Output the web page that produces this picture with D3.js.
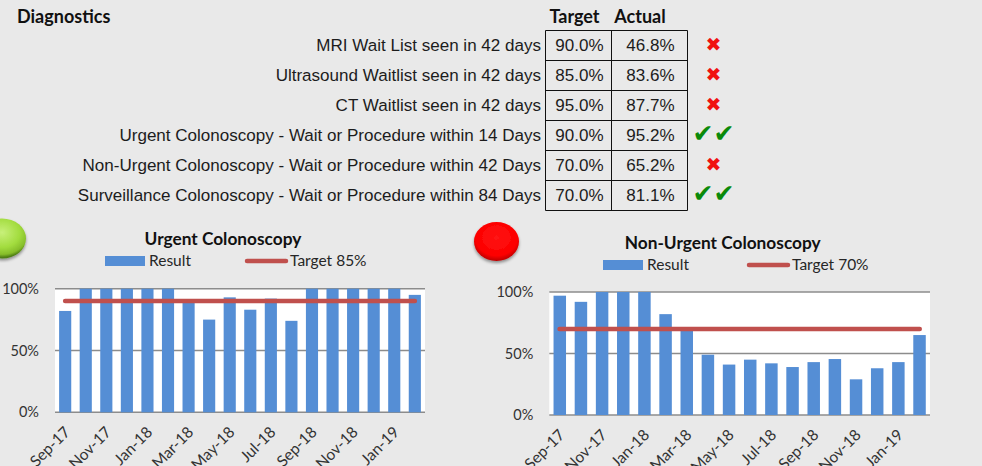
<!DOCTYPE html>
<html lang="en">
<head>
    <meta charset="UTF-8">
    <script src="https://d3js.org/d3.v7.min.js"></script>
    <title>Diagnostics</title>
    <style>
        html, body { margin: 0; padding: 0; background: #e9e9e9; overflow: hidden; }
        svg { display: block; }
        text { font-family: Lato, "Open Sans", sans-serif; fill: #262626; }
        .head { font-weight: bold; font-size: 18px; fill: #111; }
        .cell { font-family: "Liberation Sans", Arial, sans-serif; font-size: 17.05px; fill: #1c1c1c; }
        .axis text { font-size: 15.5px; fill: #333; }
        .y-axis text { font-size: 14.5px; }
        .axis path, .axis line { display: none; }
        .chart-title { font-weight: bold; font-size: 17.3px; text-anchor: middle; fill: #111; }
        .legend { font-size: 15.5px; }
    </style>
</head>
<body>
    <svg id="page" width="982" height="466"></svg>

    <script>
        // table
        const measures = [
            "MRI Wait List seen in 42 days",
            "Ultrasound Waitlist seen in 42 days",
            "CT Waitlist seen in 42 days",
            "Urgent Colonoscopy - Wait or Procedure within 14 Days",
            "Non-Urgent Colonoscopy - Wait or Procedure within 42 Days",
            "Surveillance Colonoscopy - Wait or Procedure within 84 Days"
        ];
        const targets = [90.0, 85.0, 95.0, 90.0, 70.0, 70.0];
        const actuals = [46.8, 83.6, 87.7, 95.2, 65.2, 81.1];
        const metTarget = [false, false, false, true, false, true];

        // charts
        const months = ["Sep-17", "Oct-17", "Nov-17", "Dec-17", "Jan-18", "Feb-18", "Mar-18", "Apr-18", "May-18",
                        "Jun-18", "Jul-18", "Aug-18", "Sep-18", "Oct-18", "Nov-18", "Dec-18", "Jan-19", "Feb-19"];
        const monthLabels = months.filter((d, i) => i % 2 === 0 && i < 17);
        const percentTicks = [0, 50, 100];
        const urgentResult = [82, 100, 100, 100, 100, 100, 90, 75, 93, 83, 92, 74, 100, 100, 100, 100, 100, 95];
        const nonUrgentResult = [97, 92, 100, 100, 100, 82, 69, 49, 41, 45, 42, 39, 43, 45.5, 29, 38, 43, 65];

        const svg = d3.select("#page");

        // gradients for the status lights
        const defs = svg.append("defs");
        function addLight(id, cy, stops) {
            const grad = defs.append("radialGradient").attr("id", id)
                .attr("cx", "50%").attr("cy", cy).attr("r", "62%");
            stops.forEach(s => grad.append("stop").attr("offset", s[0]).attr("stop-color", s[1]));
        }
        addLight("green-light", "35%", [["0%", "#c8f07a"], ["60%", "#a2dc3e"], ["88%", "#86bd2a"], ["100%", "#4f7f14"]]);
        addLight("red-light", "40%", [["0%", "#ff1414"], ["75%", "#fd0000"], ["100%", "#b00000"]]);
        const shadow = defs.append("filter").attr("id", "soft");
        shadow.append("feDropShadow").attr("dx", 0).attr("dy", 2).attr("stdDeviation", 1.5)
            .attr("flood-color", "#000").attr("flood-opacity", 0.4);

        svg.append("text").attr("class", "head").attr("x", 17).attr("y", 22.5).text("Diagnostics");
        svg.append("text").attr("class", "head").attr("x", 574.5).attr("y", 22.5).attr("text-anchor", "middle").text("Target");
        svg.append("text").attr("class", "head").attr("x", 640).attr("y", 22.5).attr("text-anchor", "middle").text("Actual");

        const rowY = d3.scaleBand().domain(measures).range([30.5, 210.5]);
        const colX = [545.5, 611.5, 687.5];

        const rows = svg.selectAll(".row").data(measures).enter().append("g")
            .attr("class", "row")
            .attr("transform", d => `translate(0,${rowY(d)})`);

        rows.append("text").attr("class", "cell")
            .attr("x", 541).attr("y", 20.5).attr("text-anchor", "end")
            .text(d => d);
        rows.append("text").attr("class", "cell")
            .attr("x", (colX[0] + colX[1]) / 2 + 1).attr("y", 20.5).attr("text-anchor", "middle")
            .text((d, i) => targets[i].toFixed(1) + "%");
        rows.append("text").attr("class", "cell")
            .attr("x", (colX[1] + colX[2]) / 2 + 1).attr("y", 20.5).attr("text-anchor", "middle")
            .text((d, i) => actuals[i].toFixed(1) + "%");
        rows.append("text")
            .attr("x", 713.5).attr("y", (d, i) => metTarget[i] ? 21 : 20.5).attr("text-anchor", "middle")
            .style("font-family", "'DejaVu Sans'")
            .style("font-size", (d, i) => metTarget[i] ? "25px" : "19px")
            .style("fill", (d, i) => metTarget[i] ? "#0a8a0a" : "#f01010")
            .text((d, i) => metTarget[i] ? "\u2714\u2714" : "\u2716");

        // table grid
        const grid = svg.append("g").attr("stroke", "#111").attr("fill", "none");
        rowY.domain().concat("end").forEach(d => {
            const y = d === "end" ? 210.5 : rowY(d);
            grid.append("line").attr("x1", colX[0]).attr("x2", colX[2]).attr("y1", y).attr("y2", y);
        });
        colX.forEach(x => grid.append("line").attr("x1", x).attr("x2", x).attr("y1", 30.5).attr("y2", 210.5));

        function drawChart(opts) {
            const x = d3.scaleBand().domain(months).range([opts.left, opts.right]).paddingInner(0.41).paddingOuter(0.2);
            const y = d3.scaleLinear().domain([0, 100]).range([opts.bottom, opts.top]);

            svg.append("rect").attr("x", opts.left).attr("y", opts.top)
                .attr("width", opts.right - opts.left).attr("height", opts.bottom - opts.top)
                .attr("fill", "#fff");

            svg.append("g").selectAll("line").data(percentTicks).enter().append("line")
                .attr("x1", opts.left).attr("x2", opts.right)
                .attr("y1", d => y(d)).attr("y2", d => y(d))
                .attr("stroke", "#8c8c8c").attr("stroke-width", 1.5);

            svg.append("g").selectAll("rect").data(opts.values).enter().append("rect")
                .attr("x", (d, i) => x(months[i]))
                .attr("width", x.bandwidth())
                .attr("y", d => y(d))
                .attr("height", d => y(0) - y(d))
                .attr("fill", "#558ed5");

            svg.append("line")
                .attr("x1", x(months[0]) + 6).attr("x2", x(months[17]) + x.bandwidth() - 6)
                .attr("y1", y(opts.lineValue)).attr("y2", y(opts.lineValue))
                .attr("stroke", "#c0504d").attr("stroke-width", 4.5).attr("stroke-linecap", "round");

            svg.append("g").attr("class", "axis y-axis")
                .attr("transform", `translate(${opts.left - 10},0)`)
                .call(d3.axisLeft(y).tickValues(percentTicks).tickSize(0).tickPadding(6).tickFormat(d => d + "%"));

            svg.append("g").attr("class", "axis")
                .attr("transform", `translate(0,${opts.bottom})`)
                .call(d3.axisBottom(x).tickValues(monthLabels).tickSize(0))
                .selectAll("text")
                .attr("transform", "translate(2,17) rotate(-45)")
                .attr("x", 0).attr("y", 0).attr("dy", "0.35em")
                .style("text-anchor", "end");

            svg.append("text").attr("class", "chart-title")
                .attr("x", opts.titleX).attr("y", opts.titleY).text(opts.title);

            const lx = opts.legendX, ly = opts.legendY;
            svg.append("rect").attr("x", lx).attr("y", ly - 5).attr("width", 40).attr("height", 10).attr("fill", "#558ed5");
            svg.append("text").attr("class", "legend").attr("x", lx + 44).attr("y", ly + 5).text("Result");
            svg.append("line").attr("x1", opts.keyX).attr("x2", opts.keyX + 39).attr("y1", ly).attr("y2", ly)
                .attr("stroke", "#c0504d").attr("stroke-width", 4.5).attr("stroke-linecap", "round");
            svg.append("text").attr("class", "legend").attr("x", opts.keyX + 43).attr("y", ly + 5).text(opts.lineLabel);
        }

        drawChart({
            values: urgentResult, left: 55, right: 425, top: 288.7, bottom: 412.3,
            lineValue: 90, lineLabel: "Target 85%",
            title: "Urgent Colonoscopy", titleX: 223, titleY: 244.5, legendX: 105, legendY: 261, keyX: 247
        });
        drawChart({
            values: nonUrgentResult, left: 549.3, right: 930, top: 292, bottom: 415,
            lineValue: 70, lineLabel: "Target 70%",
            title: "Non-Urgent Colonoscopy", titleX: 722.7, titleY: 248.5, legendX: 603, legendY: 265, keyX: 749
        });

        // status lights
        svg.append("ellipse").attr("cx", 2).attr("cy", 238.5).attr("rx", 24).attr("ry", 20)
            .attr("fill", "url(#green-light)").attr("filter", "url(#soft)");
        svg.append("ellipse").attr("cx", 496.5).attr("cy", 241.5).attr("rx", 22.5).attr("ry", 19.5)
            .attr("fill", "url(#red-light)").attr("filter", "url(#soft)");
    </script>
</body>
</html>
